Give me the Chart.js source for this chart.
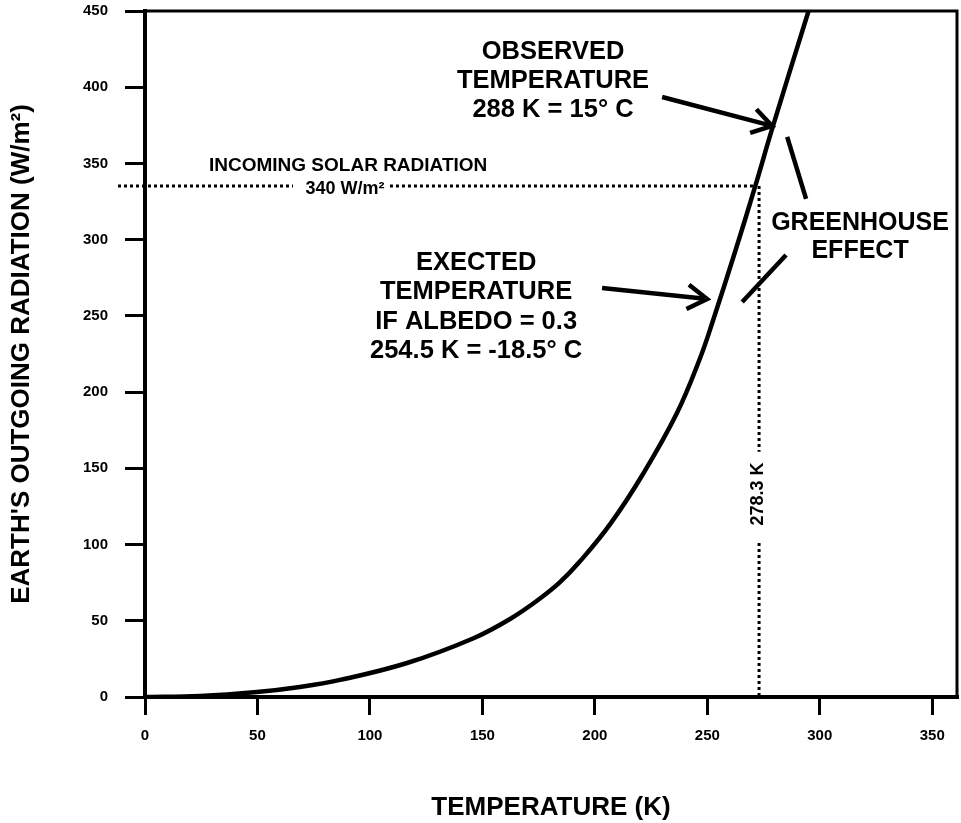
<!DOCTYPE html>
<html>
<head>
<meta charset="utf-8">
<script src="https://cdn.jsdelivr.net/npm/chart.js@4.4.1/dist/chart.umd.min.js"></script>
<style>
  html, body { margin: 0; padding: 0; background: #fff; }
  canvas { display: block; }
</style>
</head>
<body>
<canvas id="c" width="961" height="823"></canvas>
<script>
// ---- data ----
const temperatureK = [0, 24.5, 49.8, 68.9, 86.7, 116.5, 145.8, 162.3, 175.6, 184.5, 193.4, 206.8, 221.4, 236.5, 246.8, 252.6, 262.3, 271.2, 278.8, 295];
const radiationWm2 = [0, 0.7, 3.3, 6.6, 11.2, 22.3, 38.4, 51.2, 64.6, 75.3, 89.0, 113.4, 146.3, 186.3, 222.4, 247.3, 291.9, 334.6, 372.7, 450];

const xTickValues = [0, 50, 100, 150, 200, 250, 300, 350];
const yTickValues = [0, 50, 100, 150, 200, 250, 300, 350, 400, 450];

// incoming solar radiation guide (horizontal dotted line, gap for its label)
const solarLineX = [-12, 65.8, 87, 108.9, 271.2];
const solarLineY = [335.2, 335.2, null, 335.2, 335.2];
// 278.3 K guide (vertical dotted line, gap for its label)
const kelvinLineX = [273, 273, 273, 273, 273];
const kelvinLineY = [335.2, 160.8, null, 101, 0];

const xTitle = 'TEMPERATURE (K)';
const yTitle = "EARTH'S OUTGOING RADIATION (W/m²)";

// annotation texts and pointers (anchored in data units)
const notes = [
  { lines: ['OBSERVED', 'TEMPERATURE', '288 K = 15° C'], x: 181.4, y: 404.1, size: 25.5, lh: 29 },
  { lines: ['EXECTED', 'TEMPERATURE', 'IF ALBEDO = 0.3', '254.5 K = -18.5° C'], x: 147.2, y: 255.8, size: 25.5, lh: 29.5 },
  { lines: ['GREENHOUSE', 'EFFECT'], x: 317.9, y: 301.4, size: 25, lh: 28 },
  { lines: ['INCOMING SOLAR RADIATION'], x: 90.3, y: 348.3, size: 19, lh: 20 },
  { lines: ['340 W/m²'], x: 88.9, y: 333.2, size: 18, lh: 20 },
  { lines: ['278.3 K'], x: 272.6, y: 133.2, size: 18, lh: 20, rotate: -Math.PI / 2 }
];
const arrows = [
  { from: [229.9, 393.6], to: [278.8, 374.6] },
  { from: [203.2, 268.3], to: [249.9, 261.1] }
];
const strokes = [
  { from: [285.5, 367.4], to: [293.9, 326.7] },
  { from: [285.0, 289.9], to: [265.5, 259.1] }
];

const FONT = '"Liberation Sans", Arial, Helvetica, sans-serif';

const toPts = (xs, ys) => xs.map((v, i) => ({ x: v, y: ys[i] }));

const annotPlugin = {
  id: 'annot',
  afterDraw(chart) {
    const { ctx, chartArea: a, scales: { x, y } } = chart;
    const px = v => x.getPixelForValue(v);
    const py = v => y.getPixelForValue(v);
    ctx.save();
    ctx.strokeStyle = '#000';
    ctx.fillStyle = '#000';
    // top and right frame
    ctx.lineWidth = 3;
    ctx.lineCap = 'square';
    ctx.beginPath();
    ctx.moveTo(a.left, a.top);
    ctx.lineTo(a.right, a.top);
    ctx.lineTo(a.right, a.bottom);
    ctx.stroke();

    // texts
    ctx.textAlign = 'center';
    ctx.textBaseline = 'middle';
    notes.forEach(n => {
      ctx.save();
      ctx.font = 'bold ' + n.size + 'px ' + FONT;
      ctx.translate(px(n.x), py(n.y));
      if (n.rotate) ctx.rotate(n.rotate);
      const h = (n.lines.length - 1) * n.lh;
      n.lines.forEach((t, i) => ctx.fillText(t, 0, -h / 2 + i * n.lh));
      ctx.restore();
    });

    // arrows
    ctx.lineWidth = 4.5;
    ctx.lineCap = 'butt';
    ctx.lineJoin = 'miter';
    arrows.forEach(ar => {
      const x1 = px(ar.from[0]), y1 = py(ar.from[1]);
      const x2 = px(ar.to[0]), y2 = py(ar.to[1]);
      const ang = Math.atan2(y2 - y1, x2 - x1);
      const L = 23, s = 0.56;
      ctx.beginPath();
      ctx.moveTo(x1, y1);
      ctx.lineTo(x2 - 2 * Math.cos(ang), y2 - 2 * Math.sin(ang));
      ctx.stroke();
      ctx.beginPath();
      ctx.moveTo(x2 - L * Math.cos(ang - s), y2 - L * Math.sin(ang - s));
      ctx.lineTo(x2, y2);
      ctx.lineTo(x2 - L * Math.cos(ang + s), y2 - L * Math.sin(ang + s));
      ctx.stroke();
    });
    // greenhouse brackets
    strokes.forEach(st => {
      ctx.beginPath();
      ctx.moveTo(px(st.from[0]), py(st.from[1]));
      ctx.lineTo(px(st.to[0]), py(st.to[1]));
      ctx.stroke();
    });
    ctx.restore();
  }
};

new Chart(document.getElementById('c'), {
  type: 'line',
  data: {
    datasets: [
      {
        data: toPts(temperatureK, radiationWm2),
        borderColor: '#000',
        borderWidth: 4.5,
        pointRadius: 0,
        tension: 0.4,
        fill: false
      },
      {
        data: toPts(solarLineX, solarLineY),
        borderColor: '#000',
        borderWidth: 3,
        borderDash: [3, 3],
        pointRadius: 0,
        spanGaps: false,
        clip: false,
        fill: false
      },
      {
        data: toPts(kelvinLineX, kelvinLineY),
        borderColor: '#000',
        borderWidth: 3,
        borderDash: [3, 3],
        pointRadius: 0,
        spanGaps: false,
        fill: false
      }
    ]
  },
  options: {
    responsive: false,
    animation: false,
    events: [],
    layout: { padding: { top: 11, right: 4, left: 0, bottom: 0 } },
    plugins: { legend: { display: false }, tooltip: { enabled: false } },
    scales: {
      x: {
        type: 'linear',
        min: 0,
        max: 361,
        afterBuildTicks: s => { s.ticks = xTickValues.map(v => ({ value: v })); },
        afterFit: s => { s.height = 126; s.paddingLeft = 0; s.paddingRight = 0; },
        ticks: { color: '#000', font: { family: FONT, size: 15, weight: 'bold' }, padding: 12, maxRotation: 0 },
        grid: { drawOnChartArea: false, drawTicks: true, tickLength: 18, color: '#000', lineWidth: 3 },
        border: { display: true, color: '#000', width: 4 },
        title: { display: true, text: xTitle, color: '#000', font: { family: FONT, size: 26, weight: 'bold' }, padding: { top: 0, bottom: 0 } }
      },
      y: {
        type: 'linear',
        min: 0,
        max: 450,
        afterBuildTicks: s => { s.ticks = yTickValues.map(v => ({ value: v })); },
        afterFit: s => { s.width = 145; s.paddingTop = 0; s.paddingBottom = 0; },
        ticks: { color: '#000', font: { family: FONT, size: 15, weight: 'bold' }, padding: 17 },
        grid: { drawOnChartArea: false, drawTicks: true, tickLength: 20, color: '#000', lineWidth: 3 },
        border: { display: true, color: '#000', width: 4 },
        title: { display: true, text: yTitle, color: '#000', font: { family: FONT, size: 26, weight: 'bold' }, padding: { top: 6, bottom: 0 } }
      }
    }
  },
  plugins: [annotPlugin]
});
</script>
</body>
</html>
